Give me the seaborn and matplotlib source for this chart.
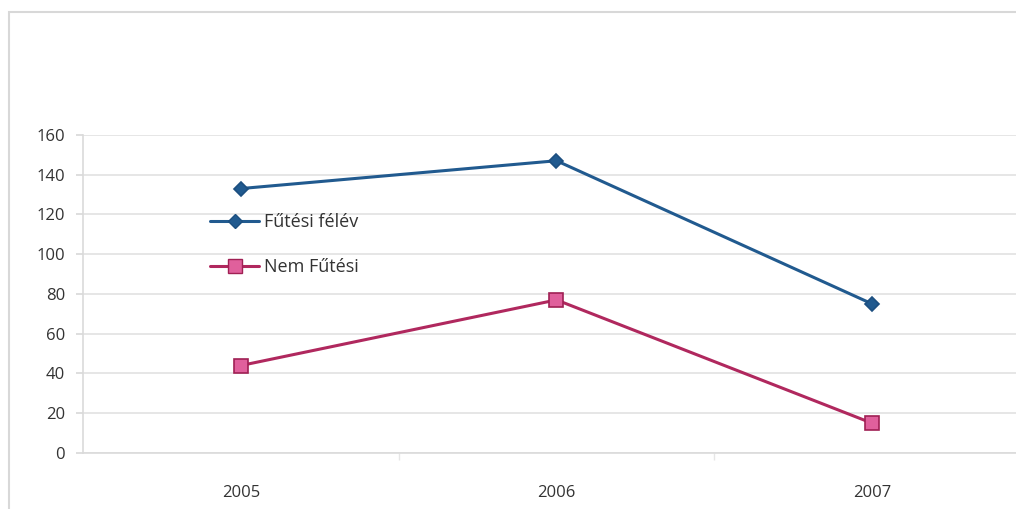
import matplotlib
matplotlib.use("Agg")
import matplotlib.pyplot as plt
from matplotlib.patches import Rectangle
from matplotlib.lines import Line2D
import seaborn as sns
import pandas as pd

years = ["2005", "2006", "2007"]
series_names = ["Fűtési félév", "Nem Fűtési"]
heating = [133, 147, 75]
non_heating = [44, 77, 15]
y_ticks = [0, 20, 40, 60, 80, 100, 120, 140, 160]

df = pd.DataFrame({
    "pos": list(range(len(years))) * 2,
    "value": heating + non_heating,
    "series": [series_names[0]] * len(years) + [series_names[1]] * len(years),
})

sns.set_theme(style="white")
plt.rcParams["font.family"] = ["Open Sans", "DejaVu Sans"]

fig = plt.figure(figsize=(10.16, 5.09), dpi=100)
ax = fig.add_axes([0.0817, 0.110, 0.932, 0.625])

line_colors = {series_names[0]: "#215a8f", series_names[1]: "#b0285e"}
sns.lineplot(
    data=df, x="pos", y="value", hue="series", style="series",
    palette=line_colors, markers={series_names[0]: "D", series_names[1]: "s"},
    dashes=False, linewidth=2.2, ax=ax, legend=False,
)

# marker styling per series
face = {0: "#215a8f", 1: "#e0609c"}
edge = {0: "#1c4f80", 1: "#a02054"}
size = {0: 7.5, 1: 9.5}
for i, ln in enumerate(ax.get_lines()[:2]):
    ln.set_markerfacecolor(face[i])
    ln.set_markeredgecolor(edge[i])
    ln.set_markeredgewidth(1.2)
    ln.set_markersize(size[i])

ax.set_xlim(-0.5, 2.5)
ax.set_ylim(0, 160)
ax.set_xticks(range(len(years)))
ax.set_xticklabels(years)
ax.set_xticks([0.5, 1.5], minor=True)
ax.set_yticks(y_ticks)
ax.set_xlabel("")
ax.set_ylabel("")

ax.grid(axis="y", color="#e2e2e2", linewidth=1.2)
ax.set_axisbelow(True)
for side in ["top", "right"]:
    ax.spines[side].set_visible(False)
for side in ["left", "bottom"]:
    ax.spines[side].set_color("#dadada")
    ax.spines[side].set_linewidth(1.2)

ax.tick_params(axis="y", which="major", left=True, length=5, color="#dadada",
               labelsize=12, labelcolor="#333333", pad=8)
ax.tick_params(axis="x", which="major", bottom=False, labelsize=12,
               labelcolor="#333333", pad=17)
ax.tick_params(axis="x", which="minor", bottom=True, length=5, color="#e6e6e6")
for lbl in ax.get_yticklabels() + ax.get_xticklabels():
    lbl.set_fontweight("medium")

# legend inside the plotting area
handles = [
    Line2D([], [], color=line_colors[series_names[0]], lw=2.2, marker="D",
           markersize=7.5, markerfacecolor=face[0], markeredgecolor=edge[0]),
    Line2D([], [], color=line_colors[series_names[1]], lw=2.2, marker="s",
           markersize=9.5, markerfacecolor=face[1], markeredgecolor=edge[1]),
]
fig.legend(handles, series_names, loc="upper left",
           bbox_to_anchor=(0.191, 0.613), frameon=False, fontsize=13,
           handlelength=2.7, handletextpad=0.25, labelspacing=1.5,
           labelcolor="#333333")

# outer chart border
fig.patches.append(Rectangle((0.009, -0.05), 1.2, 1.026, transform=fig.transFigure,
                             fill=False, edgecolor="#d8d8d8", linewidth=1.5))

fig.savefig("out.png", dpi=100, facecolor="white")
